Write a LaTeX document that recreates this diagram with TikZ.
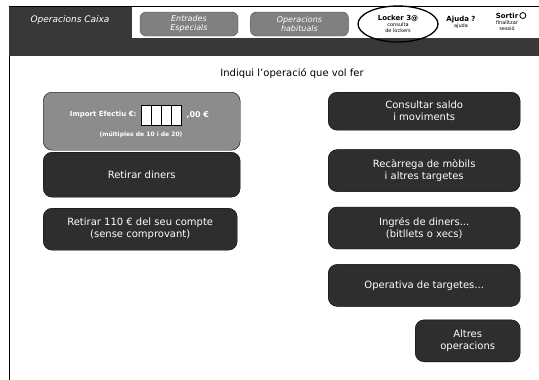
\documentclass[tikz,border=0pt]{standalone}
\usepackage{fontspec}
\setmainfont{DejaVu Sans}
\usetikzlibrary{positioning, shapes.geometric}

\begin{document}
\begin{tikzpicture}[
    x=1pt, y=-1pt,
    node distance=15pt,
    boton/.style={
        rounded corners=9pt,
        draw=black,
        fill=black!82,
        text=white,
        font=\fontsize{10}{12}\selectfont,
        align=center,
        minimum width=192pt,
        minimum height=42pt,
        inner sep=2pt
    },
    pestanya/.style={
        rounded corners=6pt,
        draw=black!70,
        fill=black!50,
        text=white,
        font=\fontsize{8}{9}\selectfont\itshape,
        align=center,
        minimum width=98pt,
        minimum height=24pt,
        inner sep=1pt
    },
    menut/.style={
        font=\fontsize{5}{6}\selectfont,
        align=center,
        inner sep=1pt
    },
    icona/.style={
        circle,
        draw=black,
        line width=0.8pt,
        minimum size=6pt,
        inner sep=0pt
    }
]
\useasboundingbox (0,0) rectangle (539,380);

% Marc i capçalera
\draw[line width=1pt] (9,380) -- (9,6) -- (539,6);
\fill[black!78] (9,38) rectangle (539,56);
\node (caixa) [anchor=north west, fill=black!78, minimum width=123pt, minimum height=49pt,
    inner sep=0pt] at (9,7) {};
\node[text=white, font=\fontsize{9}{10}\selectfont\itshape] at (70,20) {Operacions Caixa};

\node (entrades) [pestanya] at (189,24) {Entrades\\Especials};
\node (habituals) [pestanya, right=12pt of entrades] {Operacions\\habituals};

% Enllaços de la dreta
\node (locker) [menut] at (398,24) {\textbf{\fontsize{7}{8}\selectfont Locker 3@}\\consulta\\de lockers};
\draw[line width=1.3pt] (locker) ellipse (40pt and 18pt);
\node (ajuda) [menut] at (461,22) {\textbf{\fontsize{7}{8}\selectfont Ajuda ?}\\ajuda};
\node (sortir) [menut] at (507,22) {\textbf{\fontsize{7}{8}\selectfont Sortir}\\finalitzar\\sessió};
\node (sortiricona) [icona, right=1pt of sortir.north east, anchor=north west, yshift=-1pt] {};

% Títol
\node (titol) at (292,74) {\fontsize{10}{12}\selectfont Indiqui l'operació que vol fer};

% Columna esquerra
\node (efectiu) [boton, fill=black!45, anchor=north west, minimum width=197pt, minimum height=58pt] at (43,92) {};
\node (import) [font=\fontsize{7}{8}\selectfont\bfseries, text=white, anchor=east] at (140,115) {Import Efectiu €:};
\node (caselles) [draw=black, fill=white, line width=1pt, minimum width=40pt, minimum height=20pt,
    anchor=west, inner sep=0pt] at (141,115) {};
\foreach \i in {1,2,3}
    \draw[line width=1pt] ([xshift=\i*10pt]caselles.north west) -- ([xshift=\i*10pt]caselles.south west);
\node[font=\fontsize{8}{9}\selectfont\bfseries, text=white, right=1pt of caselles] {,00 €};
\node[font=\fontsize{6}{7}\selectfont\bfseries, text=white] at (141,135) {(múltiples de 10 i de 20)};

\node (retirar) [boton, anchor=north west, minimum width=197pt, minimum height=45pt] at (43,152) {Retirar diners};
\node (retirar110) [boton, anchor=north west, minimum width=194pt] at (43,208) {Retirar 110 € del seu compte\\(sense comprovant)};

% Columna dreta
\node (saldo) [boton, anchor=north west, minimum height=38pt] at (328,92) {Consultar saldo\\i moviments};
\node (recarrega) [boton, below=19pt of saldo] {Recàrrega de mòbils\\i altres targetes};
\node (ingres) [boton, below=of recarrega] {Ingrés de diners...\\(bitllets o xecs)};
\node (targetes) [boton, below=of ingres] {Operativa de targetes...};
\node (altres) [boton, below=13pt of targetes.south east, anchor=north east, minimum width=105pt] {Altres\\operacions};

\end{tikzpicture}
\end{document}
